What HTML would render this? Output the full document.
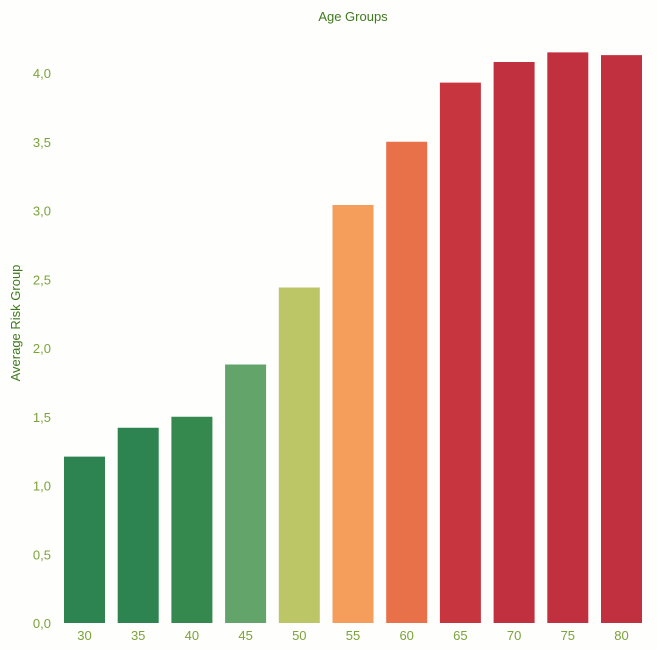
<!DOCTYPE html>
<html><head><meta charset="utf-8"><style>
html,body{margin:0;padding:0;background:#fefefc;}
svg{display:block;font-family:"Liberation Sans",sans-serif;}
</style></head><body>
<svg id="c" width="657" height="650">
<text x="353" y="21" text-anchor="middle" font-size="13" fill="#3f7a1e">Age Groups</text>
<text transform="translate(20,323) rotate(-90)" text-anchor="middle" font-size="13" fill="#3f7a1e">Average Risk Group</text>
<g id="yt"></g><g id="bars"></g><g id="xt"></g>
</svg>
<script>
const categories=["30","35","40","45","50","55","60","65","70","75","80"];
const values=[1.21,1.42,1.50,1.88,2.44,3.04,3.50,3.93,4.08,4.15,4.13];
const colors=["#2e8450","#2e8450","#35894f","#62a46a","#bdc667","#f59d5b","#e9714a","#c7353f","#c1303e","#c1303e","#c1303e"];
const yTicks=[0,0.5,1,1.5,2,2.5,3,3.5,4];
const yTickLabels=["0,0","0,5","1,0","1,5","2,0","2,5","3,0","3,5","4,0"];
const NS="http://www.w3.org/2000/svg";
const y=v=>623-v*137.5;
const x=i=>64+i*53.7;
const bw=41;
const yt=document.getElementById('yt'),bars=document.getElementById('bars'),xt=document.getElementById('xt');
yTicks.forEach((t,i)=>{
 const el=document.createElementNS(NS,'text');
 
 
 el.setAttribute('x',51);el.setAttribute('y',y(t)+5);el.setAttribute('text-anchor','end');
 el.setAttribute('font-size','13');el.setAttribute('fill','#7aa33a');
 el.textContent=yTickLabels[i];yt.appendChild(el);
});
categories.forEach((c,i)=>{
 const r=document.createElementNS(NS,'rect');
 
 
 r.setAttribute('x',x(i));r.setAttribute('y',y(values[i]));r.setAttribute('width',bw);
 r.setAttribute('height',y(0)-y(values[i]));r.setAttribute('fill',colors[i]);
 bars.appendChild(r);
 const t=document.createElementNS(NS,'text');
 
 
 t.setAttribute('x',x(i)+bw/2);t.setAttribute('y',640);t.setAttribute('text-anchor','middle');
 t.setAttribute('font-size','13');t.setAttribute('fill','#7aa33a');
 t.textContent=c;xt.appendChild(t);
});
</script>
</body></html>
